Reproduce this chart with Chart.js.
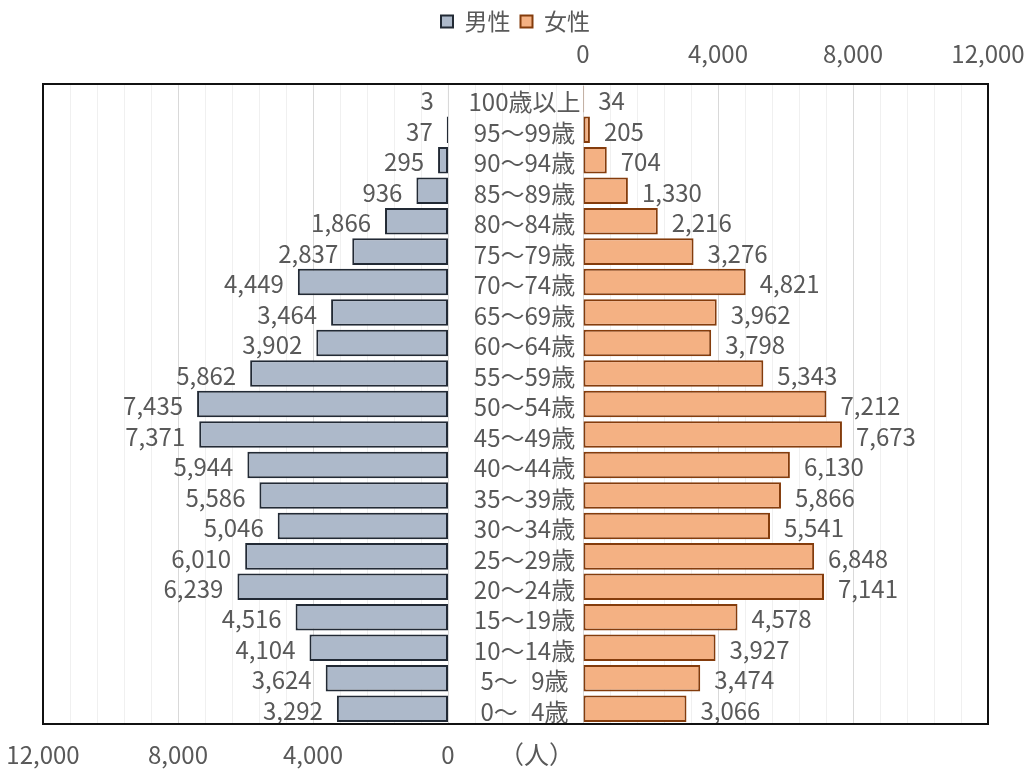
<!DOCTYPE html>
<html lang="ja">
<head>
<meta charset="utf-8">
<title>人口ピラミッド</title>
<script src="https://cdn.jsdelivr.net/npm/chart.js@4.4.1/dist/chart.umd.min.js"></script>
<style>
  html, body { margin: 0; padding: 0; background: #fff; }
  #wrap { width: 1025px; height: 771px; }
</style>
</head>
<body>
<div id="wrap"><canvas id="pyramid"></canvas></div>
<script>
// 年齢階級（上から）
const ageGroups = [
    '100歳以上', '95～99歳', '90～94歳', '85～89歳', '80～84歳', '75～79歳',
    '70～74歳', '65～69歳', '60～64歳', '55～59歳', '50～54歳', '45～49歳',
    '40～44歳', '35～39歳', '30～34歳', '25～29歳', '20～24歳', '15～19歳',
    '10～14歳', '5～\u20079歳', '0～\u20074歳'
];
// 男性・女性の人数
const male = [3, 37, 295, 936, 1866, 2837, 4449, 3464, 3902, 5862, 7435, 7371,
    5944, 5586, 5046, 6010, 6239, 4516, 4104, 3624, 3292];
const female = [34, 205, 704, 1330, 2216, 3276, 4821, 3962, 3798, 5343, 7212, 7673,
    6130, 5866, 5541, 6848, 7141, 4578, 3927, 3474, 3066];
// 目盛ラベル
const tickLabels = [0, 4000, 8000, 12000];
const unitLabel = '（人）';

const FONT = '"Noto Sans CJK JP", "Noto Sans", sans-serif';
const TEXT = '#595959';

const fmt = v => v.toLocaleString('en-US');

// 軸の自動余白を消す（プロット枠を固定）
const noSidePad = s => { s.paddingLeft = 0; s.paddingRight = 0; };

// 値ラベル・年齢ラベル・枠線
const pyramidDecor = {
    id: 'pyramidDecor',
    afterDatasetsDraw(chart) {
        const ctx = chart.ctx;
        const xM = chart.scales.xM, xF = chart.scales.xF;
        ctx.save();
        ctx.fillStyle = TEXT;
        ctx.textBaseline = 'middle';
        ctx.font = '24px ' + FONT;
        chart.data.datasets.forEach((ds, i) => {
            chart.getDatasetMeta(i).data.forEach((bar, j) => {
                if (i === 0) {
                    ctx.textAlign = 'right';
                    ctx.fillText(fmt(ds.data[j]), bar.x - 14, bar.y + 2);
                } else {
                    ctx.textAlign = 'left';
                    ctx.fillText(fmt(ds.data[j]), bar.x + 14, bar.y + 2);
                }
            });
        });
        // 中央の年齢階級
        const cx = (xM.getPixelForValue(0) + xF.getPixelForValue(0)) / 2 + 9;
        ctx.font = '24px ' + FONT;
        ctx.textAlign = 'center';
        chart.data.labels.forEach((lab, j) => {
            ctx.fillText(lab, cx, chart.scales.y.getPixelForValue(j) + 3);
        });
        // 単位
        ctx.font = '25px ' + FONT;
        ctx.fillText(unitLabel, cx + 12, 754);
        // 枠
        const a = chart.chartArea;
        ctx.strokeStyle = '#111';
        ctx.lineWidth = 2;
        ctx.strokeRect(a.left, a.top, a.right - a.left, a.bottom - a.top);
        ctx.restore();
    }
};

const ctx = document.getElementById('pyramid').getContext('2d');
new Chart(ctx, {
    type: 'bar',
    data: {
        labels: ageGroups,
        datasets: [{
            label: '男性',
            data: male,
            xAxisID: 'xM',
            backgroundColor: '#adb9ca',
            borderColor: '#222a35',
            borderWidth: 2,
            borderSkipped: false,
            grouped: false,
            categoryPercentage: 1,
            barPercentage: 0.87
        }, {
            label: '女性',
            data: female,
            xAxisID: 'xF',
            backgroundColor: '#f4b183',
            borderColor: '#843c0c',
            borderWidth: 2,
            borderSkipped: false,
            grouped: false,
            categoryPercentage: 1,
            barPercentage: 0.87
        }]
    },
    options: {
        indexAxis: 'y',
        responsive: true,
        maintainAspectRatio: false,
        animation: false,
        events: [],
        layout: { padding: { left: 43, right: 37, top: 0, bottom: 0 } },
        scales: {
            y: { display: false },
            // 男性（下、左向き）
            xM: {
                type: 'linear',
                position: 'bottom',
                reverse: true,
                min: -16000,
                max: 12000,
                grid: { display: false },
                border: { display: false },
                ticks: {
                    stepSize: 4000,
                    autoSkip: false,
                    maxRotation: 0,
                    padding: 8,
                    color: TEXT,
                    font: { family: FONT, size: 24 },
                    callback: v => tickLabels.includes(v) ? fmt(v) : ''
                },
                afterFit: s => { s.height = 47; noSidePad(s); }
            },
            // 女性（上、右向き）
            xF: {
                type: 'linear',
                position: 'top',
                min: -16000,
                max: 12000,
                grid: {
                    drawTicks: false,
                    color: c => (c.tick && c.tick.value % 4000 === 0) ? '#d9d9d9' : '#f0f0f0',
                    lineWidth: 1
                },
                border: { display: false },
                ticks: {
                    stepSize: 800,
                    maxTicksLimit: 100,
                    autoSkip: false,
                    maxRotation: 0,
                    padding: 16,
                    color: TEXT,
                    font: { family: FONT, size: 24 },
                    callback: v => tickLabels.includes(v) ? fmt(v) : ''
                },
                afterFit: s => {
                    s.height = 84 - (s.chart.legend ? s.chart.legend.height : 44);
                    noSidePad(s);
                }
            }
        },
        plugins: {
            legend: {
                position: 'top',
                labels: {
                    boxWidth: 12,
                    boxHeight: 12,
                    padding: 10,
                    color: TEXT,
                    font: { family: FONT, size: 23 }
                }
            },
            tooltip: { enabled: false }
        }
    },
    plugins: [pyramidDecor]
});
</script>
</body>
</html>
